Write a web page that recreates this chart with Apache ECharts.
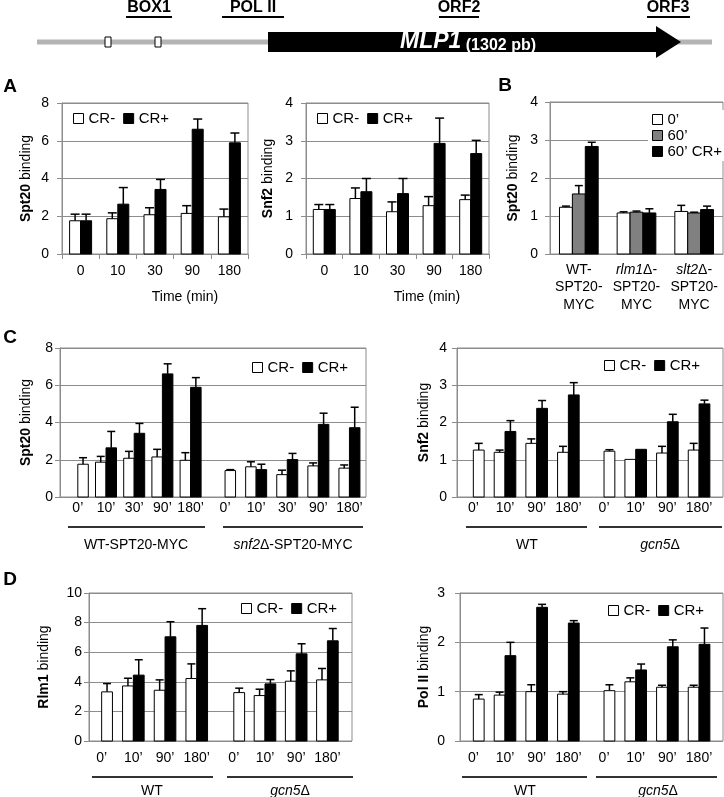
<!DOCTYPE html>
<html><head><meta charset="utf-8">
<script src="https://cdn.jsdelivr.net/npm/echarts@6/dist/echarts.min.js"></script>
<style>html,body{margin:0;padding:0;background:#fff}#c{width:724px;height:797px}</style>
</head><body><div id="c"></div>
<script>
// ---------------- DATA ----------------
// Panel A (time course, minutes)
const timeLabelsA = ['0', '10', '30', '90', '180'];
const spt20A_CRm = [1.76, 1.87, 2.08, 2.15, 1.97];
const spt20A_CRm_err = [0.35, 0.31, 0.37, 0.41, 0.41];
const spt20A_CRp = [1.76, 2.64, 3.42, 6.61, 5.89];
const spt20A_CRp_err = [0.35, 0.88, 0.53, 0.54, 0.52];
const snf2A_CRm = [1.18, 1.47, 1.12, 1.28, 1.44];
const snf2A_CRm_err = [0.13, 0.28, 0.26, 0.24, 0.12];
const snf2A_CRp = [1.18, 1.65, 1.60, 2.93, 2.66];
const snf2A_CRp_err = [0.13, 0.35, 0.40, 0.67, 0.35];

// Panel B
const strainLabelsB = ['WT-SPT20-MYC', 'rlm1Δ-SPT20-MYC', 'slt2Δ-SPT20-MYC'];
const b_t0 = [1.23, 1.08, 1.12];
const b_t0_err = [0.03, 0.03, 0.16];
const b_t60 = [1.58, 1.10, 1.08];
const b_t60_err = [0.22, 0.03, 0.02];
const b_t60CR = [2.83, 1.08, 1.17];
const b_t60CR_err = [0.11, 0.11, 0.09];

// Panel C
const timeLabelsC = ['0’', '10’', '30’', '90’', '180’'];
const timeLabelsCD = ['0’', '10’', '90’', '180’'];
const groupLabelsCleft = ['WT-SPT20-MYC', 'snf2Δ-SPT20-MYC'];
const groupLabelsWTgcn5 = ['WT', 'gcn5Δ'];
const cSpt20WT_CRm = [1.76, 1.87, 2.08, 2.15, 1.97];
const cSpt20WT_CRm_err = [0.35, 0.31, 0.37, 0.41, 0.41];
const cSpt20WT_CRp = [null, 2.64, 3.42, 6.61, 5.89];
const cSpt20WT_CRp_err = [null, 0.88, 0.53, 0.54, 0.52];
const cSpt20snf2_CRm = [1.42, 1.62, 1.20, 1.67, 1.55];
const cSpt20snf2_CRm_err = [0.05, 0.27, 0.24, 0.16, 0.17];
const cSpt20snf2_CRp = [null, 1.47, 2.01, 3.90, 3.72];
const cSpt20snf2_CRp_err = [null, 0.29, 0.33, 0.60, 1.10];
const cSnf2WT_CRm = [1.26, 1.20, 1.44, 1.20];
const cSnf2WT_CRm_err = [0.18, 0.06, 0.12, 0.16];
const cSnf2WT_CRp = [null, 1.76, 2.38, 2.74];
const cSnf2WT_CRp_err = [null, 0.29, 0.21, 0.33];
const cSnf2gcn5_CRm = [1.23, 1.01, 1.18, 1.26];
const cSnf2gcn5_CRm_err = [0.04, 0, 0.18, 0.18];
const cSnf2gcn5_CRp = [null, 1.28, 2.02, 2.50];
const cSnf2gcn5_CRp_err = [null, 0, 0.20, 0.10];

// Panel D
const dRlm1WT_CRm = [3.32, 3.72, 3.43, 4.22];
const dRlm1WT_CRm_err = [0.56, 0.52, 0.70, 0.99];
const dRlm1WT_CRp = [null, 4.45, 7.04, 7.81];
const dRlm1WT_CRp_err = [null, 1.04, 1.02, 1.13];
const dRlm1gcn5_CRm = [3.27, 3.07, 4.04, 4.13];
const dRlm1gcn5_CRm_err = [0.30, 0.43, 0.70, 0.77];
const dRlm1gcn5_CRp = [null, 3.86, 5.89, 6.77];
const dRlm1gcn5_CRp_err = [null, 0.29, 0.68, 0.83];
const dPolWT_CRm = [0.85, 0.93, 1.00, 0.95];
const dPolWT_CRm_err = [0.09, 0.06, 0.14, 0.05];
const dPolWT_CRp = [null, 1.73, 2.71, 2.39];
const dPolWT_CRp_err = [null, 0.27, 0.06, 0.05];
const dPolgcn5_CRm = [1.02, 1.20, 1.09, 1.09];
const dPolgcn5_CRm_err = [0.12, 0.08, 0.04, 0.04];
const dPolgcn5_CRp = [null, 1.44, 1.91, 1.96];
const dPolgcn5_CRp_err = [null, 0.12, 0.14, 0.33];

// ---------------- BUILD ----------------
const FONT = '"Liberation Sans", Arial, Helvetica, sans-serif';
const LINE = '#8c8c8c';
const LEG_FS = 15;
const grids = [], xAxis = [], yAxis = [], series = [], legend = [], graphic = [];

function toData(vals, errs) {
  const out = [];
  vals.forEach((v, i) => { if (v != null) out.push([i, v, errs[i] || 0]); });
  return out;
}

function frameYAxis(g, ymax, yint, margin, title, nameGap) {
  yAxis.push({
    gridIndex: g, type: 'value', min: 0, max: ymax, interval: yint,
    axisLine: { show: true, lineStyle: { color: LINE } },
    axisTick: { show: true, length: 5, lineStyle: { color: LINE } },
    axisLabel: { margin: margin, color: '#000', fontSize: 14, fontFamily: FONT },
    splitLine: { show: true, lineStyle: { color: LINE, width: 1 } },
    name: title, nameLocation: 'middle', nameRotate: 90, nameGap: nameGap,
    nameTextStyle: { color: '#000', fontSize: 14, fontFamily: FONT,
      rich: { b: { fontWeight: 'bold', fontSize: 14, fontFamily: FONT, color: '#000' } } }
  });
}

function addFrame(r, ymax, yint, margin, title, nameGap) {
  const g = grids.length;
  grids.push({ left: r[0], top: r[1], width: r[2], height: r[3], show: true, borderColor: LINE, borderWidth: 1 });
  xAxis.push({ gridIndex: g, type: 'value', show: false, min: 0, max: 1 });
  frameYAxis(g, ymax, yint, margin, title, nameGap);
  return g;
}

function addCatFrame(r, ymax, yint, margin, title, nameGap, cats, xMargin, ticks, labelOpts) {
  const g = grids.length;
  grids.push({ left: r[0], top: r[1], width: r[2], height: r[3], show: true, borderColor: LINE, borderWidth: 1 });
  xAxis.push(Object.assign({
    gridIndex: g, type: 'category', data: cats,
    axisLine: { show: true, lineStyle: { color: LINE } },
    axisTick: { show: ticks, length: 5, alignWithLabel: false, lineStyle: { color: LINE } },
    axisLabel: Object.assign({ interval: 0, margin: xMargin, color: '#000', fontSize: 14, fontFamily: FONT }, labelOpts || {})
  }));
  frameYAxis(g, ymax, yint, margin, title, nameGap);
  return g;
}

function addGroup(left, width, top, height, ymax, cats, xMargin) {
  const g = grids.length;
  grids.push({ left: left, width: width, top: top, height: height, show: false });
  xAxis.push({ gridIndex: g, type: 'category', data: cats,
    axisLine: { show: false }, axisTick: { show: false },
    axisLabel: { interval: 0, margin: xMargin, color: '#000', fontSize: 14, fontFamily: FONT } });
  yAxis.push({ gridIndex: g, type: 'value', min: 0, max: ymax, show: false });
  return g;
}

function addBars(g, name, vals, errs, fill, barW, offsetFn, cap) {
  series.push({
    type: 'custom', name: name, xAxisIndex: g, yAxisIndex: g,
    data: toData(vals, errs), encode: { x: 0, y: 1 },
    itemStyle: { color: fill, borderColor: '#000', borderWidth: 1 },
    silent: true,
    renderItem: function (params, api) {
      const i = api.value(0), v = api.value(1), e = api.value(2);
      const base = api.coord([i, 0]);
      const top = api.coord([i, v]);
      const x = base[0] + offsetFn(i) * barW;
      const kids = [{
        type: 'rect',
        shape: { x: x, y: top[1], width: barW, height: base[1] - top[1] },
        style: { fill: fill, stroke: '#000', lineWidth: 1 }
      }];
      if (e > 0) {
        const et = api.coord([i, v + e]);
        const cx = x + barW / 2;
        kids.push({ type: 'line', shape: { x1: cx, y1: top[1], x2: cx, y2: et[1] }, style: { stroke: '#000', lineWidth: 1.5 } });
        kids.push({ type: 'line', shape: { x1: cx - cap, y1: et[1], x2: cx + cap, y2: et[1] }, style: { stroke: '#000', lineWidth: 1.5 } });
      }
      return { type: 'group', children: kids };
    }
  });
}

function pairBars(g, crm, crmErr, crp, crpErr, barW, cap) {
  addBars(g, 'CR-', crm, crmErr, '#ffffff', barW, i => (crp[i] == null ? 0 : -1), cap);
  addBars(g, 'CR+', crp, crpErr, '#000000', barW, i => 0, cap);
}

function crLegend(left, top) {
  legend.push({
    left: left, top: top, orient: 'horizontal', icon: 'rect', itemWidth: 10, itemHeight: 10, itemGap: 8,
    selectedMode: false, padding: 0,
    textStyle: { color: '#000', fontSize: LEG_FS, fontFamily: FONT },
    data: [{ name: 'CR-', itemStyle: { color: '#fff', borderColor: '#000', borderWidth: 1 } },
           { name: 'CR+', itemStyle: { color: '#000', borderColor: '#000', borderWidth: 1 } }]
  });
}

// ---- Panel A left (Spt20) ----
let g = addCatFrame([62, 103, 186, 151], 8, 2, 13, '{b|Spt20} binding', 29, timeLabelsA, 10, true);
pairBars(g, spt20A_CRm, spt20A_CRm_err, spt20A_CRp, spt20A_CRp_err, 11, 4.5);
crLegend(73, 111);
// ---- Panel A right (Snf2) ----
g = addCatFrame([306, 103, 183, 151], 4, 1, 13, '{b|Snf2} binding', 31, timeLabelsA, 10, true);
pairBars(g, snf2A_CRm, snf2A_CRm_err, snf2A_CRp, snf2A_CRp_err, 11, 4.5);
crLegend(317, 111);

// ---- Panel B ----
g = addCatFrame([550, 102, 173, 152], 4, 1, 12, '{b|Spt20} binding', 30, strainLabelsB, 7, false, {
  lineHeight: 17.5,
  formatter: function (v) {
    return v.replace(/-/g, '-\n').replace(/^([a-z][a-z0-9]*)Δ/, '{i|$1}Δ');
  },
  rich: { i: { fontStyle: 'italic', fontSize: 14, fontFamily: FONT, color: '#000', lineHeight: 17.5 } }
});
const bw = 12.9;
addBars(g, '0’', b_t0, b_t0_err, '#ffffff', bw, i => -1.5, 4);
addBars(g, '60’', b_t60, b_t60_err, '#808080', bw, i => -0.5, 4);
addBars(g, '60’ CR+', b_t60CR, b_t60CR_err, '#000000', bw, i => 0.5, 4);
legend.push({
  left: 648, top: 110, orient: 'vertical', icon: 'rect', itemWidth: 10, itemHeight: 10, itemGap: 1,
  selectedMode: false, padding: [2, 4], backgroundColor: '#fff',
  textStyle: { color: '#000', fontSize: LEG_FS, fontFamily: FONT },
  data: [{ name: '0’', itemStyle: { color: '#fff', borderColor: '#000', borderWidth: 1 } },
         { name: '60’', itemStyle: { color: '#808080', borderColor: '#000', borderWidth: 1 } },
         { name: '60’ CR+', itemStyle: { color: '#000', borderColor: '#000', borderWidth: 1 } }]
});

// ---- Panel C left (Spt20, WT vs snf2) ----
addFrame([60, 348, 306, 149], 8, 2, 7, '{b|Spt20} binding', 27);
g = addGroup(63.7, 141, 348, 149, 8, timeLabelsC, 4);
pairBars(g, cSpt20WT_CRm, cSpt20WT_CRm_err, cSpt20WT_CRp, cSpt20WT_CRp_err, 10.5, 4);
g = addGroup(209.5, 155.5, 348, 149, 8, timeLabelsC, 4);
pairBars(g, cSpt20snf2_CRm, cSpt20snf2_CRm_err, cSpt20snf2_CRp, cSpt20snf2_CRp_err, 10.5, 4);
crLegend(252, 360);

// ---- Panel C right (Snf2, WT vs gcn5) ----
addFrame([457, 348, 266, 149], 4, 1, 10, '{b|Snf2} binding', 26);
g = addGroup(457.5, 126.7, 348, 149, 4, timeLabelsCD, 4);
pairBars(g, cSnf2WT_CRm, cSnf2WT_CRm_err, cSnf2WT_CRp, cSnf2WT_CRp_err, 10.8, 4);
g = addGroup(588.2, 126.7, 348, 149, 4, timeLabelsCD, 4);
pairBars(g, cSnf2gcn5_CRm, cSnf2gcn5_CRm_err, cSnf2gcn5_CRp, cSnf2gcn5_CRp_err, 10.8, 4);
crLegend(604, 358);

// ---- Panel D left (Rlm1) ----
addFrame([89, 593, 263, 148], 10, 2, 7, '{b|Rlm1} binding', 38);
g = addGroup(85.8, 126.8, 593, 148, 10, timeLabelsCD, 10);
pairBars(g, dRlm1WT_CRm, dRlm1WT_CRm_err, dRlm1WT_CRp, dRlm1WT_CRp_err, 10.8, 4);
g = addGroup(218.2, 124.8, 593, 148, 10, timeLabelsCD, 10);
pairBars(g, dRlm1gcn5_CRm, dRlm1gcn5_CRm_err, dRlm1gcn5_CRp, dRlm1gcn5_CRp_err, 10.8, 4);
crLegend(241, 601);

// ---- Panel D right (Pol II) ----
addFrame([460, 593, 263, 148], 3, 1, 15, '{b|Pol II} binding', 29);
g = addGroup(457.5, 126.7, 593, 148, 3, timeLabelsCD, 10);
pairBars(g, dPolWT_CRm, dPolWT_CRm_err, dPolWT_CRp, dPolWT_CRp_err, 10.8, 4);
g = addGroup(588.2, 126.7, 593, 148, 3, timeLabelsCD, 10);
pairBars(g, dPolgcn5_CRm, dPolgcn5_CRm_err, dPolgcn5_CRp, dPolgcn5_CRp_err, 10.8, 4);
crLegend(608, 603);

// ---------------- ANNOTATIONS ----------------
function txt(x, y, text, size, weight, extra) {
  return Object.assign({
    type: 'text', x: x, y: y, silent: true,
    style: Object.assign({ text: text, fontSize: size, fontWeight: weight || 'normal', fontFamily: FONT, fill: '#000',
      align: 'center', verticalAlign: 'middle', textAlign: 'center', textVerticalAlign: 'middle' }, extra || {})
  });
}
function hline(x1, x2, y, w, color) {
  return { type: 'line', silent: true, shape: { x1: x1, y1: y, x2: x2, y2: y }, style: { stroke: color || '#000', lineWidth: w } };
}
function richGroupLabel(x, y, label) {
  const m = label.match(/^([a-z][a-z0-9]*)(Δ.*)$/);
  const text = m ? '{i|' + m[1] + '}' + m[2] : label;
  return txt(x, y, text, 14, 'normal', { rich: { i: { fontStyle: 'italic', fontSize: 14, fontFamily: FONT, fill: '#000' } } });
}

// Gene schematic
graphic.push({ type: 'rect', silent: true, shape: { x: 37, y: 39.5, width: 675, height: 5 }, style: { fill: '#b4b4b4' } });
graphic.push({ type: 'rect', silent: true, shape: { x: 105, y: 37, width: 6, height: 10 }, style: { fill: '#fff', stroke: '#000', lineWidth: 1 } });
graphic.push({ type: 'rect', silent: true, shape: { x: 155, y: 37, width: 6, height: 10 }, style: { fill: '#fff', stroke: '#000', lineWidth: 1 } });
graphic.push({ type: 'polygon', silent: true, shape: { points: [[268, 32], [656, 32], [656, 26], [681, 42], [656, 58], [656, 52], [268, 52]] }, style: { fill: '#000' } });
graphic.push(txt(468, 42, '{a|MLP1} {b|(1302 pb)}', 16, 'bold', {
  fill: '#fff',
  rich: {
    a: { fontStyle: 'italic', fontWeight: 'bold', fontSize: 23, fontFamily: FONT, fill: '#fff', verticalAlign: 'bottom' },
    b: { fontWeight: 'bold', fontSize: 16, fontFamily: FONT, fill: '#fff', verticalAlign: 'bottom' }
  }
}));
[['BOX1', 149, 126, 172], ['POL II', 253, 222, 284], ['ORF2', 459, 439, 479], ['ORF3', 668, 647, 690]].forEach(function (t) {
  graphic.push(txt(t[1], 8, t[0], 16, 'bold'));
  graphic.push(hline(t[2], t[3], 17, 2));
});

// Panel letters
graphic.push(txt(10, 87, 'A', 19, 'bold'));
graphic.push(txt(505, 86, 'B', 19, 'bold'));
graphic.push(txt(10, 338, 'C', 19, 'bold'));
graphic.push(txt(10, 580, 'D', 19, 'bold'));

// Axis titles for panel A
graphic.push(txt(185, 297, 'Time (min)', 14));
graphic.push(txt(427, 297, 'Time (min)', 14));

// Group lines and labels, panel C
graphic.push(hline(68, 205, 527, 2, '#333'));
graphic.push(hline(223, 363, 527, 2, '#333'));
graphic.push(richGroupLabel(136, 545, groupLabelsCleft[0]));
graphic.push(richGroupLabel(293, 545, groupLabelsCleft[1]));
graphic.push(hline(466, 587, 527, 2, '#333'));
graphic.push(hline(599, 722, 527, 2, '#333'));
graphic.push(richGroupLabel(527, 545, groupLabelsWTgcn5[0]));
graphic.push(richGroupLabel(660, 545, groupLabelsWTgcn5[1]));
// Panel D
graphic.push(hline(92, 213, 777, 2, '#333'));
graphic.push(hline(227, 353, 777, 2, '#333'));
graphic.push(richGroupLabel(152, 791, groupLabelsWTgcn5[0]));
graphic.push(richGroupLabel(290, 791, groupLabelsWTgcn5[1]));
graphic.push(hline(462, 587, 777, 2, '#333'));
graphic.push(hline(596, 717, 777, 2, '#333'));
graphic.push(richGroupLabel(525, 791, groupLabelsWTgcn5[0]));
graphic.push(richGroupLabel(658, 791, groupLabelsWTgcn5[1]));

const chart = echarts.init(document.getElementById('c'), null, { renderer: 'canvas' });
chart.setOption({
  animation: false,
  backgroundColor: '#fff',
  textStyle: { fontFamily: FONT },
  grid: grids, xAxis: xAxis, yAxis: yAxis, series: series, legend: legend,
  graphic: { elements: graphic }
});
</script></body></html>
